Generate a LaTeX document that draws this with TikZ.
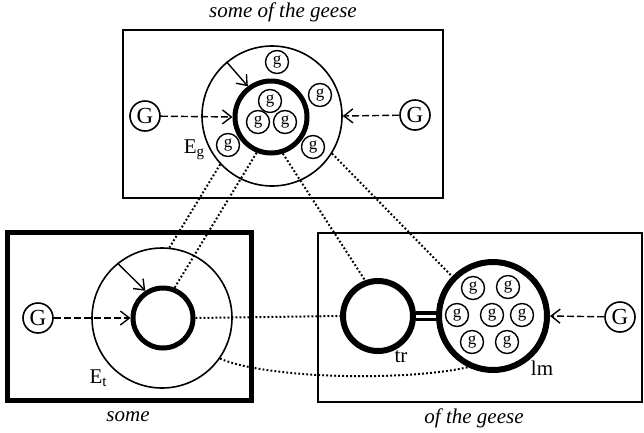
\documentclass[tikz,border=0pt]{standalone}
\usepackage{fontspec}
\setmainfont{Liberation Serif}
\usetikzlibrary{arrows.meta}

\tikzset{
  goose/.style={draw, circle, line width=1.4pt, minimum size=23pt, inner sep=0pt, font=\fontsize{17}{17}\selectfont},
  flock/.style={draw, circle, line width=1.6pt, minimum size=30pt, inner sep=0pt, font=\fontsize{23}{23}\selectfont},
  ring/.style={draw, circle, line width=1.6pt, inner sep=0pt},
  core/.style={draw, circle, line width=5pt, inner sep=0pt},
  frame/.style={draw, line width=2pt},
  link/.style={line width=2pt, dash pattern=on 1.8pt off 2.2pt},
  feed/.style={line width=1.4pt, dash pattern=on 7pt off 3pt, -{Straight Barb[length=9pt,width=14pt,line width=1.4pt]}},
  bind/.style={line width=1.4pt, -{Straight Barb[length=9pt,width=14pt,line width=1.4pt]}},
  label/.style={font=\fontsize{21}{21}\selectfont},
  caption/.style={font=\fontsize{21}{21}\selectfont\itshape}
}

\begin{document}
\begin{tikzpicture}[x=1pt, y=-1pt]
    \useasboundingbox (0,0) rectangle (644,432);

    % Frames
    \node[frame, minimum width=320pt, minimum height=168pt, inner sep=0pt] (top) at (283,114) {};
    \node[draw, line width=5pt, minimum width=244pt, minimum height=168pt, inner sep=0pt] (left) at (129,316) {};
    \node[frame, minimum width=324pt, minimum height=169pt, inner sep=0pt] (right) at (480,317.5) {};

    % Captions
    \node[caption] (ctop) at (283,12) {some of the geese};
    \node[caption] (cleft) at (128,417) {some};
    \node[caption] (cright) at (474,418) {of the geese};

    % Top: E_g
    \node[ring, minimum size=140pt] (Egout) at (272,116) {};
    \node[core, minimum size=72pt] (Egin) at (271,117) {};
    \foreach \p [count=\i] in {(270,101),(258,122),(285,122)} {
        \node[goose] (gi\i) at \p {g};
    }
    \foreach \p [count=\i] in {(277,62),(320,95),(313,147),(228,145)} {
        \node[goose] (go\i) at \p {g};
    }
    \node[label] (Eg) at (194,150) {E\raisebox{-0.35ex}{\fontsize{15}{15}\selectfont g}};
    \node[flock] (Gtl) at (145,116) {G};
    \node[flock] (Gtr) at (415,115) {G};
    \draw[feed] (Gtl) -- (Egin.west);
    \draw[feed] (Gtr) -- (Egout.east);
    \draw[bind] (Egout.130) -- (Egin.127);

    % Bottom left: E_t
    \node[ring, minimum size=140pt] (Etout) at (162,318) {};
    \node[core, minimum size=60pt] (Etin) at (163,318) {};
    \node[label] (Et) at (98,378) {E\raisebox{-0.35ex}{\fontsize{15}{15}\selectfont t}};
    \node[flock] (Gl) at (38,318) {G};
    \draw[feed] (Gl) -- (Etin.west);
    \draw[bind] (Etout.129) -- (Etin.123);

    % Bottom right: tr and lm
    \node[core, line width=6pt, minimum size=70pt] (tr) at (378,316) {};
    \node[core, line width=6pt, minimum size=108pt] (lm) at (493,316) {};
    \foreach \p [count=\i] in {(473,288),(508,287),(457,315),(492,315),(522,315),(472,342),(507,342)} {
        \node[goose] (gm\i) at \p {g};
    }
    \node[label] (ltr) at (401,357) {tr};
    \node[label] (llm) at (542,368) {lm};
    \draw[line width=3.5pt, double, double distance=3pt] (tr.east) -- (lm.west);
    \node[flock] (Gr) at (620,317) {G};
    \draw[feed] (Gr) -- (lm.east);

    % Correspondences
    \draw[link] (Egout.223) -- (Etout.84);
    \draw[link] (Egin.248) -- (Etin.69);
    \draw[link] (Egin.288) -- (tr.110);
    \draw[link] (Egout.328) -- (lm.136);
    \draw[link] (Etin.east) -- (tr.west);
    \draw[link] (Etout.325) .. controls (265,378) and (400,382) .. (lm.244);
\end{tikzpicture}
\end{document}
